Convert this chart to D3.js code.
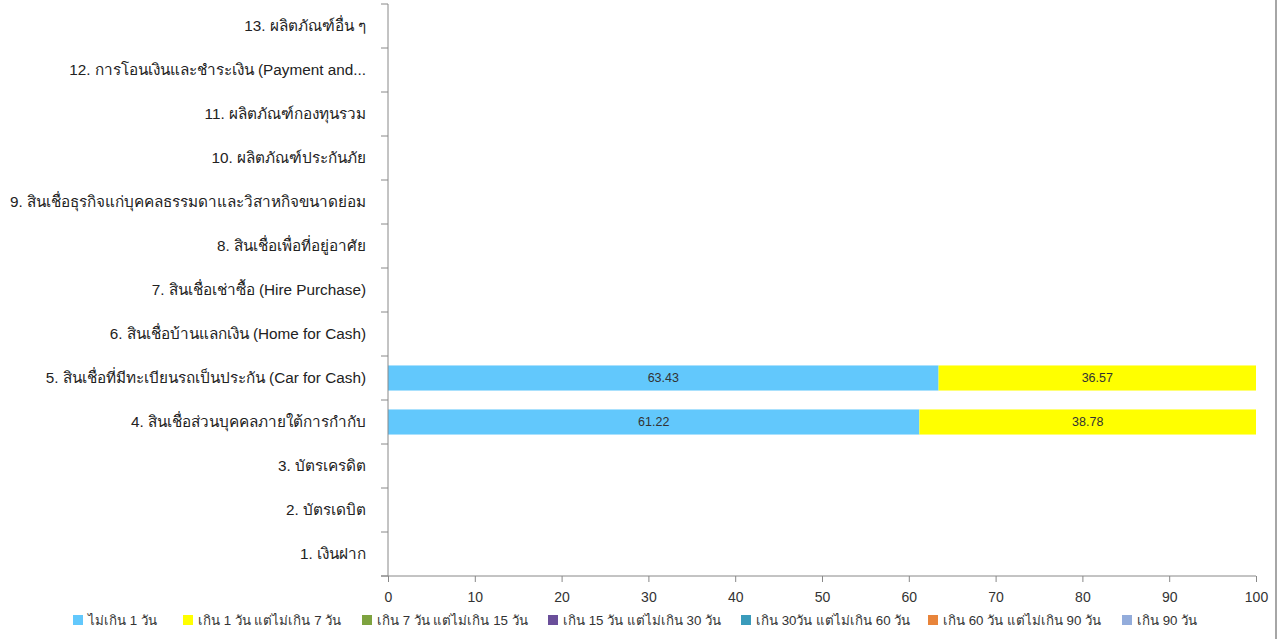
<!DOCTYPE html>
<html>
<head>
<meta charset="utf-8">
<script src="https://cdn.jsdelivr.net/npm/d3@7"></script>
<style>
  body { margin: 0; background: #fff; }
  svg { display: block; font-family: "Liberation Sans", Arial, "Noto Sans", sans-serif; }
</style>
</head>
<body>
<div id="chart_div"></div>
<script>
// categories, bottom to top
const categories = [
  "1. เงินฝาก",
  "2. บัตรเดบิต",
  "3. บัตรเครดิต",
  "4. สินเชื่อส่วนบุคคลภายใต้การกำกับ",
  "5. สินเชื่อที่มีทะเบียนรถเป็นประกัน (Car for Cash)",
  "6. สินเชื่อบ้านแลกเงิน (Home for Cash)",
  "7. สินเชื่อเช่าซื้อ (Hire Purchase)",
  "8. สินเชื่อเพื่อที่อยู่อาศัย",
  "9. สินเชื่อธุรกิจแก่บุคคลธรรมดาและวิสาหกิจขนาดย่อม",
  "10. ผลิตภัณฑ์ประกันภัย",
  "11. ผลิตภัณฑ์กองทุนรวม",
  "12. การโอนเงินและชำระเงิน (Payment and...",
  "13. ผลิตภัณฑ์อื่น ๆ"
];

const seriesNames = [
  "ไม่เกิน 1 วัน",
  "เกิน 1 วัน แต่ไม่เกิน 7 วัน",
  "เกิน 7 วัน แต่ไม่เกิน 15 วัน",
  "เกิน 15 วัน แต่ไม่เกิน 30 วัน",
  "เกิน 30วัน แต่ไม่เกิน 60 วัน",
  "เกิน 60 วัน แต่ไม่เกิน 90 วัน",
  "เกิน 90 วัน"
];

// one value per category (same order as categories)
const within1Day   = [0, 0, 0, 61.22, 63.43, 0, 0, 0, 0, 0, 0, 0, 0];
const days1to7     = [0, 0, 0, 38.78, 36.57, 0, 0, 0, 0, 0, 0, 0, 0];
const days7to15    = [0, 0, 0, 0, 0, 0, 0, 0, 0, 0, 0, 0, 0];
const days15to30   = [0, 0, 0, 0, 0, 0, 0, 0, 0, 0, 0, 0, 0];
const days30to60   = [0, 0, 0, 0, 0, 0, 0, 0, 0, 0, 0, 0, 0];
const days60to90   = [0, 0, 0, 0, 0, 0, 0, 0, 0, 0, 0, 0, 0];
const over90Days   = [0, 0, 0, 0, 0, 0, 0, 0, 0, 0, 0, 0, 0];

const xTicks = [0, 10, 20, 30, 40, 50, 60, 70, 80, 90, 100];

const colors = ["#62c8fc", "#ffff00", "#7ea33f", "#6a4f9a", "#3a9bbb", "#e8843a", "#93acdb"];

const seriesValues = [within1Day, days1to7, days7to15, days15to30, days30to60, days60to90, over90Days];

const table = categories.map(function(c, i) {
    let row = {category: c};
    seriesNames.forEach(function(s, j) { row[s] = seriesValues[j][i]; });
    return row;
});

const width = 1279, height = 639;
const margin = {top: 4, right: 23, bottom: 63, left: 388};
const plotW = width - margin.left - margin.right;
const plotH = height - margin.top - margin.bottom;

const svg = d3.select("#chart_div")
    .append("svg")
    .attr("width", width)
    .attr("height", height);

// right frame line
svg.append("line")
    .attr("x1", 1276).attr("x2", 1276)
    .attr("y1", 0).attr("y2", height)
    .attr("stroke", "#888").attr("stroke-width", 1.5);

const g = svg.append("g")
    .attr("transform", "translate(" + margin.left + "," + margin.top + ")");

const xScale = d3.scaleLinear().domain([0, 100]).range([0, plotW]);
const yScale = d3.scaleBand()
    .domain(categories.slice().reverse())
    .range([0, plotH])
    .paddingInner(0.43)
    .paddingOuter(0.215);

const stack = d3.stack().keys(seriesNames);
const stacked = stack(table);

// bars
g.selectAll(".series")
    .data(stacked)
    .enter().append("g")
    .attr("fill", (d, i) => colors[i])
    .selectAll("rect")
    .data(d => d)
    .enter().append("rect")
    .attr("x", d => xScale(d[0]))
    .attr("y", d => yScale(d.data.category))
    .attr("width", d => xScale(d[1]) - xScale(d[0]))
    .attr("height", yScale.bandwidth());

// value labels
stacked.forEach(function(layer) {
    g.selectAll(null)
        .data(layer.filter(d => d[1] - d[0] > 0))
        .enter().append("text")
        .attr("x", d => xScale((d[0] + d[1]) / 2))
        .attr("y", d => yScale(d.data.category) + yScale.bandwidth() / 2)
        .attr("dy", "0.35em")
        .attr("text-anchor", "middle")
        .attr("font-size", 12.5)
        .attr("fill", "#333")
        .text(d => (d[1] - d[0]).toFixed(2));
});

// y axis: ticks at band boundaries
const yAxisG = g.append("g");
yAxisG.append("line")
    .attr("x1", 0).attr("x2", 0)
    .attr("y1", 0).attr("y2", plotH)
    .attr("stroke", "#888");
const step = plotH / categories.length;
yAxisG.selectAll(".ytick")
    .data(d3.range(categories.length + 1))
    .enter().append("line")
    .attr("x1", -7).attr("x2", 0)
    .attr("y1", d => d * step).attr("y2", d => d * step)
    .attr("stroke", "#888");
yAxisG.selectAll(".ylabel")
    .data(categories)
    .enter().append("text")
    .attr("x", -22)
    .attr("y", d => yScale(d) + yScale.bandwidth() / 2)
    .attr("dy", "0.35em")
    .attr("text-anchor", "end")
    .attr("font-size", 15.3)
    .attr("fill", "#222")
    .text(d => d);

// x axis
const xAxisG = g.append("g")
    .attr("transform", "translate(0," + plotH + ")")
    .call(d3.axisBottom(xScale).tickValues(xTicks).tickSize(6).tickPadding(10).tickFormat(d3.format("d")));
xAxisG.select(".domain").attr("stroke", "#888").attr("d", "M-7,0H" + plotW);
xAxisG.selectAll(".tick line").attr("stroke", "#888");
xAxisG.selectAll(".tick text")
    .attr("font-size", 14)
    .attr("fill", "#333")
    .attr("font-family", "Liberation Sans, Arial, sans-serif");

// legend
const legendX = [73, 183, 362, 548, 741, 928, 1122];
const legend = svg.append("g").attr("transform", "translate(0,620)");
const items = legend.selectAll(".item")
    .data(seriesNames)
    .enter().append("g")
    .attr("transform", (d, i) => "translate(" + legendX[i] + ",0)");
items.append("rect")
    .attr("x", 0).attr("y", -5)
    .attr("width", 10).attr("height", 10)
    .attr("fill", (d, i) => colors[i]);
items.append("text")
    .attr("x", 15)
    .attr("y", 0)
    .attr("dy", "0.35em")
    .attr("font-size", 13.3)
    .attr("fill", "#333")
    .text(d => d);
</script>
</body>
</html>
